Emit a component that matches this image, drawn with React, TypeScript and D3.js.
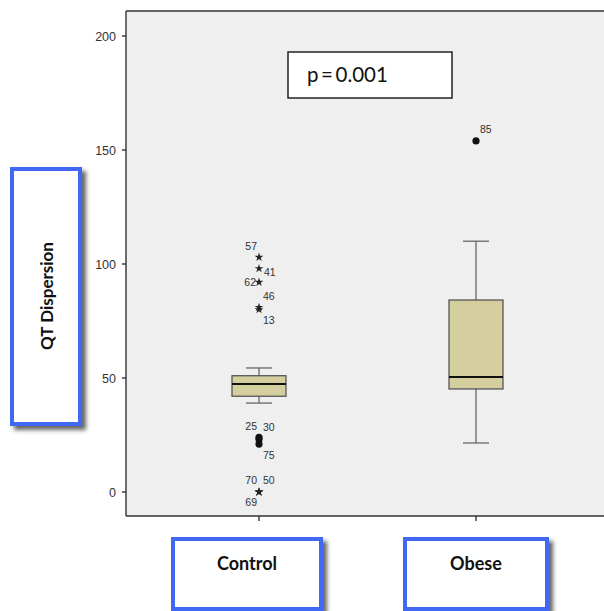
import React from "react";
import * as d3 from "d3";

// ---- data ----
const categories = ["Control", "Obese"];
// box stats: [whiskerLow, q1, median, q3, whiskerHigh]
const controlStats = [39, 42, 47.4, 51, 54.4];
const obeseStats = [21.5, 45.2, 50.4, 84.2, 110];
const controlOutlierValues = [103, 98, 92, 81, 80, 24, 23, 21, 0, 0, 0];
const controlOutlierLabels = ["57", "41", "62", "46", "13", "25", "30", "75", "70", "50", "69"];
const controlOutlierKinds = ["star", "star", "star", "star", "star", "circle", "circle", "circle", "star", "star", "star"];
const obeseOutlierValues = [154];
const obeseOutlierLabels = ["85"];
const obeseOutlierKinds = ["circle"];
const yTicks = [0, 50, 100, 150, 200];
const pText = "p\u2009=\u20090.001";
const yTitle = "QT Dispersion";

// label placements (styling): dx, dy relative to the point, anchor
const labelPlace: Record<string, [number, number, string]> = {
  "57": [-2, -7, "end"],
  "41": [5, 7, "start"],
  "62": [-3, 3.5, "end"],
  "46": [4, -7, "start"],
  "13": [4, 14.5, "start"],
  "25": [-2, -7, "end"],
  "30": [4, -9, "start"],
  "75": [4, 15, "start"],
  "70": [-2, -8, "end"],
  "50": [4, -8, "start"],
  "69": [-2, 14, "end"],
  "85": [4, -8, "start"],
};

export default function App() {
  const W = 604, H = 611;
  const left = 126, top = 11, bottom = 516;
  const y = d3.scaleLinear().domain([0, 200]).range([492, 36]);
  const x = d3.scalePoint<string>().domain(categories).range([259, 476]);
  const boxW = 54, capW = 26;
  const star = d3.symbol().type(d3.symbolStar).size(24)() as string;
  const blue = "#3f68f2";

  const groups = [
    { cat: "Control", stats: controlStats, vals: controlOutlierValues, labels: controlOutlierLabels, kinds: controlOutlierKinds },
    { cat: "Obese", stats: obeseStats, vals: obeseOutlierValues, labels: obeseOutlierLabels, kinds: obeseOutlierKinds },
  ];

  const catBoxes = [
    { cat: "Control", x0: 173, x1: 321 },
    { cat: "Obese", x0: 405, x1: 547 },
  ];

  return (
    <svg width={W} height={H} style={{ position: "absolute", left: 0, top: 0, background: "#fff" }}>
      <defs>
        <filter id="sh" x="-20%" y="-20%" width="150%" height="150%">
          <feDropShadow dx="4" dy="4" stdDeviation="2.2" floodColor="#333" floodOpacity="0.75" />
        </filter>
      </defs>
      {/* plot area */}
      <rect x={left} y={top} width={W - left + 5} height={bottom - top} fill="#efefef" />
      <line x1={left} x2={left} y1={top} y2={bottom} stroke="#333" strokeWidth={1.4} />
      <line x1={left} x2={W} y1={top} y2={top} stroke="#333" strokeWidth={1.4} />
      <line x1={left} x2={W} y1={bottom} y2={bottom} stroke="#333" strokeWidth={1.4} />
      {yTicks.map((t) => (
        <g key={t}>
          <line x1={left - 4} x2={left} y1={y(t)} y2={y(t)} stroke="#333" strokeWidth={1.4} />
          <text x={left - 10} y={y(t) + 4.5} textAnchor="end" fontFamily="Liberation Sans, Arial" fontSize={12.5} fill="#333">
            {t}
          </text>
        </g>
      ))}
      {categories.map((c) => (
        <line key={c} x1={x(c)} x2={x(c)} y1={bottom} y2={bottom + 5} stroke="#333" strokeWidth={1.4} />
      ))}
      {/* boxes */}
      {groups.map((g) => {
        const cx = x(g.cat) as number;
        const [lo, q1, med, q3, hi] = g.stats;
        return (
          <g key={g.cat}>
            <line x1={cx} x2={cx} y1={y(hi)} y2={y(q3)} stroke="#666" strokeWidth={1.3} />
            <line x1={cx} x2={cx} y1={y(q1)} y2={y(lo)} stroke="#666" strokeWidth={1.3} />
            <line x1={cx - capW / 2} x2={cx + capW / 2} y1={y(hi)} y2={y(hi)} stroke="#666" strokeWidth={1.3} />
            <line x1={cx - capW / 2} x2={cx + capW / 2} y1={y(lo)} y2={y(lo)} stroke="#666" strokeWidth={1.3} />
            <rect x={cx - boxW / 2} y={y(q3)} width={boxW} height={y(q1) - y(q3)} fill="#d5cf9f" stroke="#555" strokeWidth={1.3} />
            <line x1={cx - boxW / 2} x2={cx + boxW / 2} y1={y(med)} y2={y(med)} stroke="#111" strokeWidth={2} />
            {g.vals.map((v, i) => {
              const py = y(v);
              const lab = g.labels[i];
              const [dx, dy, anchor] = labelPlace[lab] || [4, -6, "start"];
              return (
                <g key={i}>
                  {g.kinds[i] === "star" ? (
                    <path d={star} transform={`translate(${cx},${py})`} fill="#222" />
                  ) : (
                    <circle cx={cx} cy={py} r={3.6} fill="#111" />
                  )}
                  <text x={cx + dx} y={py + dy} textAnchor={anchor as any} fontFamily="Liberation Sans Narrow, Liberation Sans, Arial" fontSize={10.5} fill="#333">
                    {lab}
                  </text>
                </g>
              );
            })}
          </g>
        );
      })}
      {/* p-value box */}
      <rect x={288} y={52} width={164} height={46} fill="#fff" stroke="#222" strokeWidth={1.5} />
      <text x={307} y={82} fontFamily="Lato, Open Sans, sans-serif" fontSize={20.5} fill="#111">
        {pText}
      </text>
      {/* y title box */}
      <rect x={12} y={169} width={68} height={255} fill="#fff" stroke={blue} strokeWidth={4} filter="url(#sh)" />
      <text
        transform={`translate(53,${296}) rotate(-90)`}
        textAnchor="middle"
        fontFamily="Lato, Open Sans, sans-serif"
        fontWeight="bold"
        fontSize={17}
        fill="#111"
      >
        {yTitle}
      </text>
      {/* category boxes */}
      {catBoxes.map((b) => (
        <g key={b.cat}>
          <rect x={b.x0} y={539} width={b.x1 - b.x0} height={70} fill="#fff" stroke={blue} strokeWidth={4} filter="url(#sh)" />
          <text x={(b.x0 + b.x1) / 2} y={570} textAnchor="middle" fontFamily="Lato, Open Sans, sans-serif" fontWeight="bold" fontSize={18} fill="#111">
            {b.cat}
          </text>
        </g>
      ))}
    </svg>
  );
}
